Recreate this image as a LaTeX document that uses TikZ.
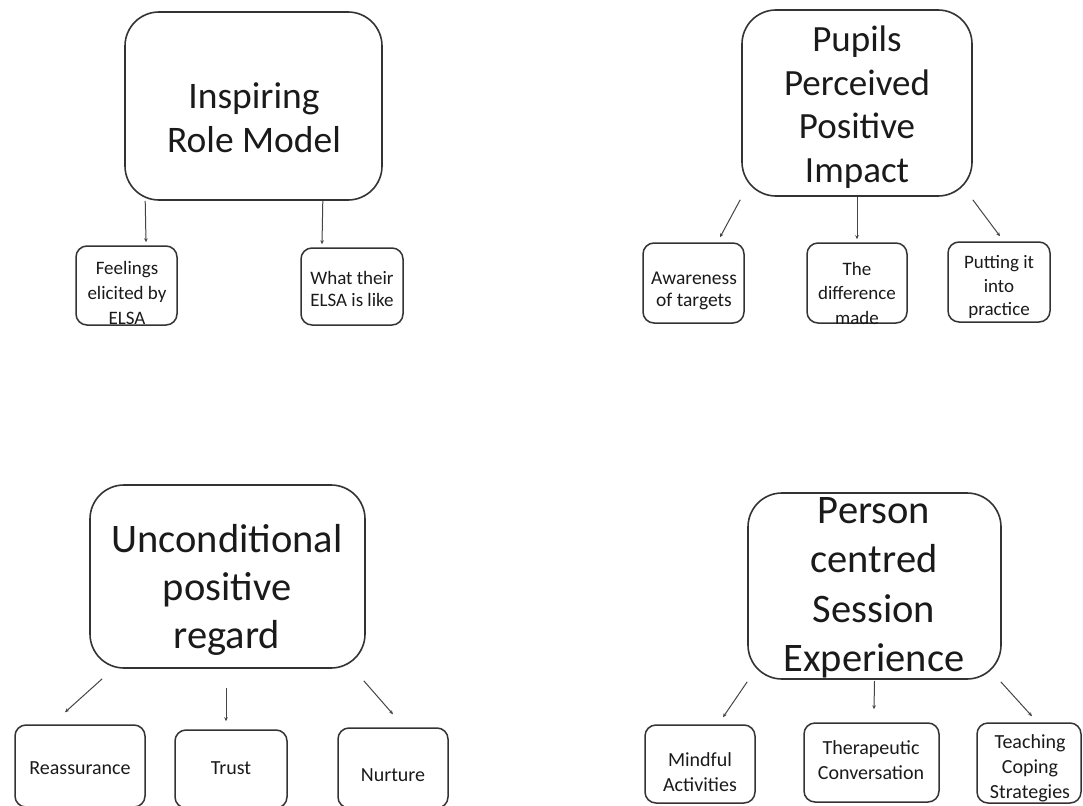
\documentclass[tikz,border=0pt]{standalone}
\usepackage{fontspec}
\setmainfont{Carlito}
\usetikzlibrary{arrows.meta,calc}
\definecolor{edge}{HTML}{333333}
\definecolor{wire}{HTML}{444444}
\definecolor{ink}{HTML}{1A1A1A}
\begin{document}
\begin{tikzpicture}[x=1pt,y=-1pt,
  bigbox/.style={draw=edge,line width=1.6pt,rounded corners=34pt,inner sep=0pt},
  smallbox/.style={draw=edge,line width=1.5pt,rounded corners=11pt,inner sep=0pt},
  bigtxt/.style={align=center,inner sep=0pt,text=ink,font=\fontsize{37}{44}\selectfont},
  hugetxt/.style={align=center,inner sep=0pt,text=ink,font=\fontsize{40.5}{48}\selectfont},
  smalltxt/.style={align=center,inner sep=0pt,text=ink,font=\fontsize{20}{24.5}\selectfont},
  conn/.style={draw=wire,line width=1pt,-{Stealth[length=4pt,width=3.5pt]}}]
\useasboundingbox (0,0) rectangle (1083,805);
\clip (0,0) rectangle (1083,805);

% main themes
\node[bigbox,minimum width=257pt,minimum height=188pt] (b1) at (253.5,106) {};
\node[bigbox,minimum width=230pt,minimum height=186pt] (b2) at (857,103) {};
\node[bigbox,minimum width=275pt,minimum height=183pt] (b3) at (227.5,576.5) {};
\node[bigbox,minimum width=253pt,minimum height=186pt] (b4) at (874.5,586) {};

\node[bigtxt,font=\fontsize{37.5}{44}\selectfont] (t1) at (254,118) {Inspiring\\Role Model};
\node[bigtxt,font=\fontsize{37}{43.5}\selectfont] (t2) at (857,107) {Pupils\\Perceived\\Positive\\Impact};
\node[hugetxt] (t3) at (227,590) {Unconditional\\positive\\regard};
\node[hugetxt,font=\fontsize{40.5}{49.5}\selectfont] (t4) at (874,588) {Person\\centred\\Session\\Experience};

% subthemes
\node[smallbox,minimum width=101pt,minimum height=79pt] (c11) at (126.5,285.5) {};
\node[smallbox,minimum width=102pt,minimum height=77pt] (c12) at (352,286.5) {};
\node[smallbox,minimum width=101pt,minimum height=80pt] (c21) at (693.5,283) {};
\node[smallbox,minimum width=100pt,minimum height=80pt] (c22) at (857,283) {};
\node[smallbox,minimum width=102pt,minimum height=80pt] (c23) at (999,282) {};
\node[smallbox,minimum width=130pt,minimum height=82pt] (c31) at (80,766) {};
\node[smallbox,minimum width=112pt,minimum height=78pt] (c32) at (231,769) {};
\node[smallbox,minimum width=110pt,minimum height=80pt] (c33) at (393,768) {};
\node[smallbox,minimum width=110pt,minimum height=78pt] (c41) at (700,764) {};
\node[smallbox,minimum width=135pt,minimum height=79pt] (c42) at (871.5,762.5) {};
\node[smallbox,minimum width=104pt,minimum height=80pt] (c43) at (1029,763) {};

\node[smalltxt,font=\fontsize{19}{25}\selectfont] (s11) at (127,293) {Feelings\\elicited by\\ELSA};
\node[smalltxt,font=\fontsize{19}{22}\selectfont] (s12) at (352,289) {What their\\ELSA is like};
\node[smalltxt,font=\fontsize{19.5}{22}\selectfont] (s21) at (694,291) {Awareness\\of targets};
\node[smalltxt,font=\fontsize{19}{24.5}\selectfont] (s22) at (857,293) {The\\difference\\made};
\node[smalltxt,font=\fontsize{19}{23.5}\selectfont] (s23) at (999,287) {Putting it\\into\\practice};
\node[smalltxt] (s31) at (80,768) {Reassurance};
\node[smalltxt] (s32) at (231,768) {Trust};
\node[smalltxt] (s33) at (393,775) {Nurture};
\node[smalltxt,font=\fontsize{20}{25}\selectfont] (s41) at (700,772) {Mindful\\Activities};
\node[smalltxt,font=\fontsize{20}{25}\selectfont] (s42) at (871,760) {Therapeutic\\Conversation};
\node[smalltxt,font=\fontsize{20}{25}\selectfont] (s43) at (1030,768) {Teaching\\Coping\\Strategies};

% connectors
\draw[conn] ($(b1.south west)+(21,0)$) -- ($(c11.north)+(19.5,-3)$);
\draw[conn] ($(b1.south east)+(-60,0)$) -- ($(c12.north)+(-30,-3)$);

\draw[conn] ($(b2.south west)+(-1,3)$) -- ($(c21.north)+(26.5,-5)$);
\draw[conn] (b2.south) -- ($(c22.north)+(0,-3)$);
\draw[conn] ($(b2.south east)+(0,3)$) -- ($(c23.north)+(1,-5)$);

\draw[conn] ($(b3.south west)+(13,10)$) -- ($(c31.north)+(-15,-12)$);
\draw[conn] ($(b3.south)+(-1.5,19)$) -- ($(c32.north)+(-5,-8)$);
\draw[conn] ($(b3.south east)+(-2,12)$) -- ($(c33.north)+(0,-13)$);

\draw[conn] ($(b4.south west)+(0,2)$) -- ($(c41.north)+(23,-7)$);
\draw[conn] ($(b4.south)+(0,1)$) -- ($(c42.north)+(2.5,-13)$);
\draw[conn] ($(b4.south east)+(-1,2)$) -- ($(c43.north)+(3,-6)$);
\end{tikzpicture}
\end{document}
